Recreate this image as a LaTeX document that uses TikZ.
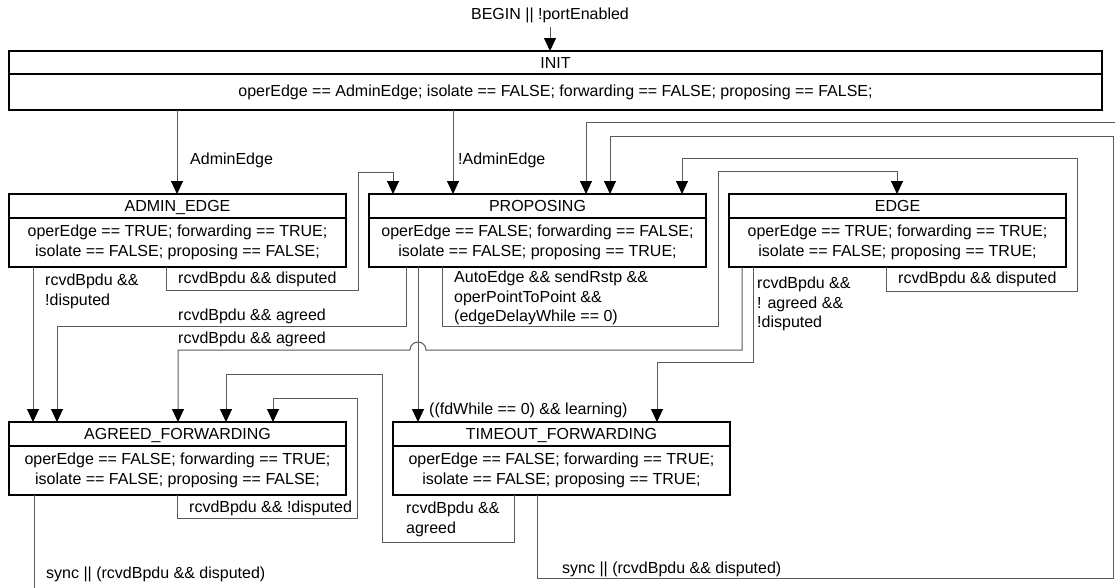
\documentclass[tikz,border=0pt]{standalone}
\usepackage{fontspec}
\setmainfont{Liberation Sans}
\usetikzlibrary{arrows.meta}
\definecolor{wire}{HTML}{5A5A5A}
\begin{document}
\begin{tikzpicture}[x=1pt,y=-1pt,font=\fontsize{16pt}{19.5pt}\selectfont,
  ttl/.style={draw=black,line width=2pt,anchor=north west,inner sep=0pt,outer sep=0pt,minimum width=337pt,minimum height=24pt,text height=11.5pt,text depth=0pt},
  bdy/.style={draw=black,line width=2pt,anchor=north west,inner sep=0pt,outer sep=0pt,minimum width=337pt,minimum height=49pt,align=center},
  conn/.style={draw=wire,line width=1pt,-{Triangle[length=13pt,width=12pt,color=black]}},
  lbl/.style={inner sep=0pt,anchor=base west},
  mlbl/.style={inner sep=0pt,anchor=north west,align=left}]
\useasboundingbox (0,0) rectangle (1115,587);
\clip (0,0) rectangle (1115,587);
\fill[white] (0,0) rectangle (1115,587);

% states
\node[ttl,minimum width=1093pt,minimum height=23pt] (init) at (9,51) {INIT};
\node[bdy,minimum width=1093pt,minimum height=36pt] (initB) at (9,74) {operEdge == AdminEdge; isolate == FALSE; forwarding == FALSE; proposing == FALSE;};

\node[ttl] (adm) at (9,194) {ADMIN\_EDGE};
\node[bdy] (admB) at (9,218) {operEdge == TRUE; forwarding == TRUE;\\isolate == FALSE; proposing == FALSE;};

\node[ttl] (prop) at (369,194) {PROPOSING};
\node[bdy] (propB) at (369,218) {operEdge == FALSE; forwarding == FALSE;\\isolate == FALSE; proposing == TRUE;};

\node[ttl] (edge) at (729,194) {EDGE};
\node[bdy] (edgeB) at (729,218) {operEdge == TRUE; forwarding == TRUE;\\isolate == FALSE; proposing == TRUE;};

\node[ttl] (agr) at (9,422) {AGREED\_FORWARDING};
\node[bdy] (agrB) at (9,446) {operEdge == FALSE; forwarding == TRUE;\\isolate == FALSE; proposing == FALSE;};

\node[ttl] (tmo) at (393,422) {TIMEOUT\_FORWARDING};
\node[bdy] (tmoB) at (393,446) {operEdge == FALSE; forwarding == TRUE;\\isolate == FALSE; proposing == TRUE;};

% entry
\node[inner sep=0pt] (begin) at (550,15) {BEGIN || !portEnabled};
\draw[conn] ([yshift=-4pt]begin.south) -- (begin.south |- init.north);

% INIT -> ADMIN_EDGE / PROPOSING
\draw[conn] ([xshift=168pt]initB.south west) -- ([xshift=168pt]adm.north west);
\node[lbl] at (190,164.5) {AdminEdge};
\draw[conn] ([xshift=444pt]initB.south west) -- ([xshift=84pt]prop.north west);
\node[lbl] at (458,164.5) {!AdminEdge};

% ADMIN_EDGE -> PROPOSING
\draw[conn] ([xshift=157pt]admB.south west) -- ++(0,23) -- ++(192,0) -- ++(0,-118) -| ([xshift=24pt]prop.north west);
\node[lbl] at (178,283.5) {rcvdBpdu \&\& disputed};

% ADMIN_EDGE -> AGREED_FORWARDING
\draw[conn] ([xshift=24pt]admB.south west) -- ([xshift=24pt]agr.north west);
\node[mlbl] at (45,274) {rcvdBpdu \&\&\\!disputed};

% PROPOSING -> AGREED_FORWARDING
\draw[conn] ([xshift=37pt]propB.south west) -- ++(0,59) -| ([xshift=48pt]agr.north west);
\node[lbl] at (178,320.5) {rcvdBpdu \&\& agreed};

% EDGE -> AGREED_FORWARDING (with hop)
\draw[conn] ([xshift=13pt]edgeB.south west) -- ++(0,83) -- ++(-316,0) arc (0:-180:8) -| ([xshift=169pt]agr.north west);
\node[lbl] at (178,343.5) {rcvdBpdu \&\& agreed};

% PROPOSING -> TIMEOUT_FORWARDING
\draw[conn] ([xshift=49pt]propB.south west) -- ([xshift=25pt]tmo.north west);
\node[lbl] at (429,414) {((fdWhile == 0) \&\& learning)};

% PROPOSING -> EDGE
\draw[conn] ([xshift=73pt]propB.south west) -- ++(0,59) -- ++(276,0) -- ++(0,-155) -| ([xshift=168pt]edge.north west);
\node[mlbl] at (454,271) {AutoEdge \&\& sendRstp \&\&\\operPointToPoint \&\&\\(edgeDelayWhile == 0)};

% EDGE -> PROPOSING
\draw[conn] ([xshift=157pt]edgeB.south west) -- ++(0,24) -- ++(191,0) -- ++(0,-133) -| ([xshift=313pt]prop.north west);
\node[lbl] at (898,283.5) {rcvdBpdu \&\& disputed};

% EDGE -> TIMEOUT_FORWARDING
\draw[conn] ([xshift=24pt]edgeB.south west) -- ++(0,95) -| ([xshift=264pt]tmo.north west);
\node[mlbl] at (757,277) {rcvdBpdu \&\&\\! agreed \&\&\\!disputed};

% AGREED_FORWARDING self loop
\draw[conn] ([xshift=168pt]agrB.south west) -- ++(0,23) -- ++(180,0) -- ++(0,-120) -| ([xshift=264pt]agr.north west);
\node[lbl] at (189,512.5) {rcvdBpdu \&\& !disputed};

% TIMEOUT_FORWARDING -> AGREED_FORWARDING
\draw[conn] ([xshift=121pt]tmoB.south west) -- ++(0,47) -- ++(-132,0) -- ++(0,-168) -| ([xshift=217pt]agr.north west);
\node[mlbl] at (406,502) {rcvdBpdu \&\&\\agreed};

% TIMEOUT_FORWARDING -> PROPOSING
\draw[conn] ([xshift=144pt]tmoB.south west) -- ++(0,83) -- ++(576,0) -- ++(0,-442) -| ([xshift=241pt]prop.north west);
\node[lbl] at (562,573.5) {sync || (rcvdBpdu \&\& disputed)};

% AGREED_FORWARDING -> PROPOSING (runs outside the visible area)
\draw[conn] ([xshift=25pt]agrB.south west) -- ++(0,120) -- ++(1091,0) -- ++(0,-493) -| ([xshift=217pt]prop.north west);
\node[lbl] at (46,578.5) {sync || (rcvdBpdu \&\& disputed)};
\end{tikzpicture}
\end{document}
